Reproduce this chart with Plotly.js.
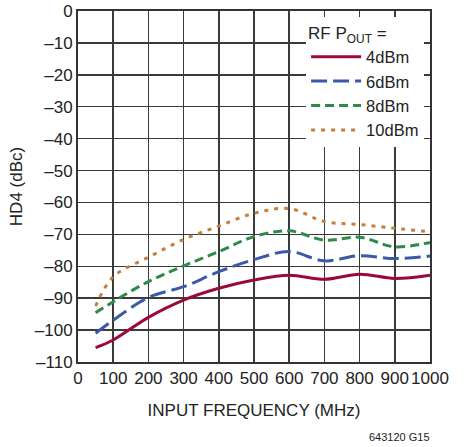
<!DOCTYPE html>
<html><head><meta charset="utf-8">
<script src="https://cdn.plot.ly/plotly-3.0.1.min.js"></script>
<style>body{margin:0;background:#fff}#c{width:466px;height:447px}</style>
</head><body><div id="c"></div>
<script>
const freq = [50, 100, 200, 300, 400, 500, 600, 700, 800, 900, 1000];
const hd4_4dBm = [-105.5, -103.1, -96, -90.6, -86.9, -84.3, -82.8, -84.1, -82.5, -83.8, -82.8];
const hd4_6dBm = [-101, -96.9, -89.8, -86.4, -81.7, -77.9, -75.4, -78.3, -76.7, -77.6, -76.8];
const hd4_8dBm = [-94.6, -91.1, -84.8, -79.9, -75.4, -70.7, -68.9, -71.8, -70.9, -73.9, -72.5];
const hd4_10dBm = [-92.5, -83.3, -77.2, -71.6, -67.4, -63.4, -61.9, -66, -66.9, -68.1, -69.2];
const seriesNames = ["4dBm", "6dBm", "8dBm", "10dBm"];
const xTicks = [0, 100, 200, 300, 400, 500, 600, 700, 800, 900, 1000];
const yTicks = [0, -10, -20, -30, -40, -50, -60, -70, -80, -90, -100, -110];
const yTickText = yTicks.map(v => v === 0 ? "0" : "\u2013" + Math.abs(v));

const FONT = "Liberation Sans, Arial, sans-serif";
const styles = [
  {color: "#9b0a36", dash: "solid"},
  {color: "#3a59a8", dash: "16px,6px"},
  {color: "#2e8a48", dash: "9px,5px"},
  {color: "#c67e38", dash: "4px,6px"}
];
const ys = [hd4_4dBm, hd4_6dBm, hd4_8dBm, hd4_10dBm];
const traces = ys.map((y, i) => ({
  x: freq, y: y, name: seriesNames[i], type: "scatter", mode: "lines",
  line: {color: styles[i].color, dash: styles[i].dash, width: 3, shape: "spline", smoothing: 1}
}));

const layout = {
  width: 466, height: 447,
  margin: {l: 78, r: 36, t: 11, b: 85},
  paper_bgcolor: "#fff", plot_bgcolor: "#fff",
  font: {family: FONT, size: 17, color: "#222"},
  showlegend: true,
  legend: {
    x: 0.648, y: 0.982, xanchor: "left", yanchor: "top",
    bgcolor: "#fff", borderwidth: 0,
    font: {family: FONT, size: 16.5, color: "#222"},
    title: {text: "RF P<sub>OUT</sub> =", font: {family: FONT, size: 17, color: "#222"}},
    tracegroupgap: 0, itemwidth: 50
  },
  xaxis: {
    range: [0, 1000], tickvals: xTicks, ticktext: xTicks.map(String),
    showgrid: true, gridcolor: "#3a3a3a", gridwidth: 1.5,
    showline: true, linecolor: "#333", linewidth: 2, mirror: true,
    zeroline: false, ticks: "", ticklen: 0,
    tickfont: {family: FONT, size: 17, color: "#222"},
    title: {text: "INPUT FREQUENCY (MHz)", font: {family: FONT, size: 17, color: "#222"}, standoff: 17}
  },
  yaxis: {
    range: [-110, 0], tickvals: yTicks, ticktext: yTickText,
    showgrid: true, gridcolor: "#3a3a3a", gridwidth: 1.5,
    showline: true, linecolor: "#333", linewidth: 2, mirror: true,
    zeroline: false, ticks: "", ticklen: 0,
    tickfont: {family: FONT, size: 17, color: "#222"},
    title: {text: "HD4 (dBc)", font: {family: FONT, size: 17, color: "#222"}, standoff: 8}
  },
  annotations: [{
    text: "643120 G15", xref: "paper", yref: "paper", x: 1.006, y: -0.214,
    xanchor: "right", yanchor: "middle", showarrow: false,
    font: {family: FONT, size: 11, color: "#222"}
  }]
};
Plotly.newPlot("c", traces, layout, {displayModeBar: false, staticPlot: true});
</script></body></html>
